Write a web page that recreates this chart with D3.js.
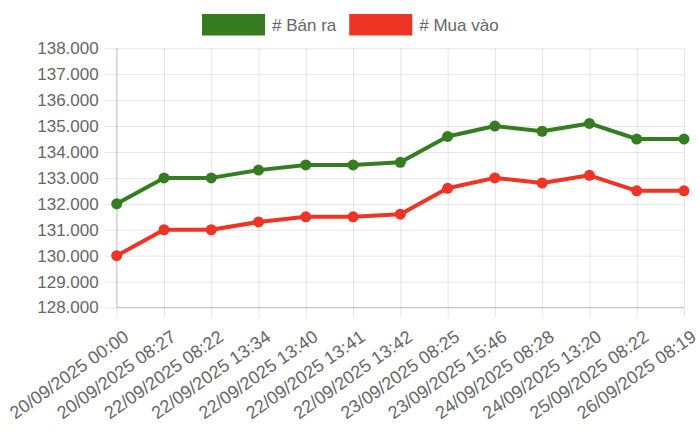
<!DOCTYPE html>
<html>
  <head>
    <meta charset="utf-8" />
    <title>Giá Bán ra / Mua vào</title>
    <script src="https://d3js.org/d3.v7.min.js"></script>
    <style>
      html,
      body {
        margin: 0;
        padding: 0;
        background: #fff;
      }
      svg text {
        font-family: "Liberation Sans", Arial, sans-serif;
        fill: #666;
      }
    </style>
  </head>
  <body>
    <div id="chart"></div>
    <script>
      // Labels and values
      const labels = [
        "20/09/2025 00:00",
        "20/09/2025 08:27",
        "22/09/2025 08:22",
        "22/09/2025 13:34",
        "22/09/2025 13:40",
        "22/09/2025 13:41",
        "22/09/2025 13:42",
        "23/09/2025 08:25",
        "23/09/2025 15:46",
        "24/09/2025 08:28",
        "24/09/2025 13:20",
        "25/09/2025 08:22",
        "26/09/2025 08:19",
      ];
      const banRa = [
        132000, 133000, 133000, 133300, 133500, 133500, 133600, 134600, 135000,
        134800, 135100, 134500, 134500,
      ];
      const muaVao = [
        130000, 131000, 131000, 131300, 131500, 131500, 131600, 132600, 133000,
        132800, 133100, 132500, 132500,
      ];
      const yTicks = [
        128000, 129000, 130000, 131000, 132000, 133000, 134000, 135000, 136000,
        137000, 138000,
      ];

      const series = [
        { name: "# Bán ra", values: banRa, color: "rgb(54,125,34)" },
        { name: "# Mua vào", values: muaVao, color: "rgb(238,52,36)" },
      ];

      const W = 700,
        H = 439;
      const margin = { top: 48.3, right: 16, bottom: 131.5, left: 116.7 };
      const width = W - margin.left - margin.right,
        height = H - margin.top - margin.bottom;

      const svg = d3
        .select("#chart")
        .append("svg")
        .attr("width", W)
        .attr("height", H);

      const g = svg
        .append("g")
        .attr("transform", `translate(${margin.left},${margin.top})`);

      const x = d3
        .scalePoint()
        .domain(d3.range(labels.length))
        .range([0, width]);
      const y = d3
        .scaleLinear()
        .domain([d3.min(yTicks), d3.max(yTicks)])
        .range([height, 0]);

      const yFmt = (v) => d3.format(".3f")(v / 1000);

      // Horizontal grid + y axis
      const yAxis = g
        .append("g")
        .call(
          d3
            .axisLeft(y)
            .tickValues(yTicks)
            .tickSize(12)
            .tickPadding(6)
            .tickFormat(yFmt)
        );
      yAxis.select(".domain").remove();
      yAxis
        .selectAll(".tick line")
        .attr("x2", width)
        .attr("x1", -12)
        .attr("stroke", "rgba(0,0,0,0.1)");
      yAxis.selectAll(".tick text").style("font-size", "17px").attr("fill", "#666");

      // Vertical grid + x axis
      const xAxis = g
        .append("g")
        .attr("transform", `translate(0,${height})`)
        .call(d3.axisBottom(x).tickSize(10).tickFormat((i) => labels[i]));
      xAxis.select(".domain").remove();
      xAxis
        .selectAll(".tick line")
        .attr("y1", -height)
        .attr("y2", 10)
        .attr("stroke", "rgba(0,0,0,0.1)");
      xAxis
        .selectAll(".tick text")
        .attr("text-anchor", "end")
        .attr("dy", null)
        .attr("y", null)
        .attr("dominant-baseline", "central")
        .attr("transform", "translate(9.4,27) rotate(-35)")
        .style("font-size", "18px")
        .attr("fill", "#666");

      // Axis lines
      g.append("line")
        .attr("x1", 0)
        .attr("x2", 0)
        .attr("y1", 0)
        .attr("y2", height)
        .attr("stroke", "rgba(0,0,0,0.18)");
      g.append("line")
        .attr("x1", 0)
        .attr("x2", width)
        .attr("y1", height)
        .attr("y2", height)
        .attr("stroke", "rgba(0,0,0,0.18)");

      // Lines and points
      const line = d3
        .line()
        .x((d, i) => x(i))
        .y((d) => y(d));

      series.forEach((s) => {
        g.append("path")
          .datum(s.values)
          .attr("fill", "none")
          .attr("stroke", s.color)
          .attr("stroke-width", 4)
          .attr("stroke-linejoin", "round")
          .attr("d", line);
        g.append("g")
          .selectAll("circle")
          .data(s.values)
          .join("circle")
          .attr("cx", (d, i) => x(i))
          .attr("cy", (d) => y(d))
          .attr("r", 5.5)
          .attr("fill", s.color);
      });

      // Legend
      const legend = svg.append("g").attr("transform", "translate(202,14)");
      let lx = 0;
      series.forEach((s) => {
        const item = legend.append("g").attr("transform", `translate(${lx},0)`);
        item
          .append("rect")
          .attr("width", 63)
          .attr("height", 21.5)
          .attr("fill", s.color);
        const t = item
          .append("text")
          .attr("x", 70)
          .attr("y", 11)
          .attr("dominant-baseline", "central")
          .style("font-size", "17px")
          .text(s.name);
        lx += 70 + t.node().getComputedTextLength() + 13;
      });
    </script>
  </body>
</html>
